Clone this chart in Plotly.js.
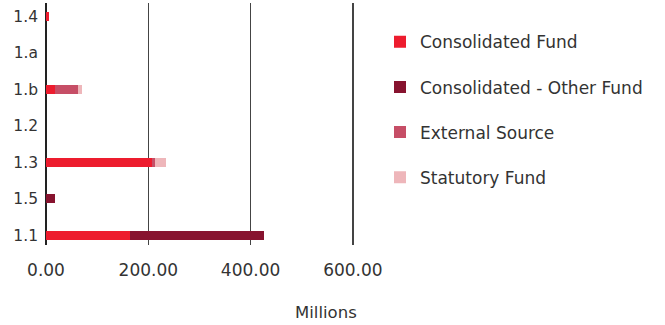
<!DOCTYPE html>
<html>
<head>
<meta charset="utf-8">
<script src="https://cdn.plot.ly/plotly-3.0.1.min.js"></script>
<style>html,body{margin:0;padding:0;background:#fff;}#chart{width:665px;height:325px;}</style>
</head>
<body>
<div id="chart"></div>
<script>
// Categories listed bottom to top
const categories = ['1.1', '1.5', '1.3', '1.2', '1.b', '1.a', '1.4'];
const consolidatedFund = [164, 0, 207, 0, 17, 0, 6];
const consolidatedOtherFund = [262, 17, 0, 0, 0, 0, 0];
const externalSource = [0, 0, 6, 0, 45, 0, 0];
const statutoryFund = [0, 0, 21, 0, 8, 0, 0];
const xTickValues = [0, 200, 400, 600];
const xTickLabels = ['0.00', '200.00', '400.00', '600.00'];

const seriesNames = ['Consolidated Fund', 'Consolidated - Other Fund', 'External Source', 'Statutory Fund'];
const seriesValues = [consolidatedFund, consolidatedOtherFund, externalSource, statutoryFund];
const seriesColors = ['#ED1C2E', '#87132F', '#C64E66', '#EEB6BA'];

const FONT = '"DejaVu Sans", sans-serif';

const traces = seriesNames.map((name, i) => ({
  type: 'bar',
  orientation: 'h',
  name: name,
  y: categories,
  x: seriesValues[i],
  marker: {color: seriesColors[i], line: {width: 0}},
  legendgroup: 'g' + i,
  hoverinfo: 'x+name'
}));

const layout = {
  width: 665,
  height: 325,
  margin: {l: 46, r: 285, t: 3, b: 80},
  barmode: 'stack',
  bargap: 0.745,
  paper_bgcolor: '#ffffff',
  plot_bgcolor: '#ffffff',
  font: {family: FONT, color: '#333333', size: 15},
  xaxis: {
    range: [0, 653],
    tickvals: xTickValues,
    ticktext: xTickLabels,
    showgrid: true,
    gridcolor: '#444444',
    gridwidth: 1.5,
    zeroline: true,
    zerolinecolor: '#222222',
    zerolinewidth: 1.5,
    showline: false,
    ticks: '',
    ticklabelstandoff: 13,
    tickfont: {family: FONT, size: 17, color: '#333333'},
    fixedrange: true
  },
  yaxis: {
    type: 'category',
    categoryorder: 'array',
    categoryarray: categories,
    range: [-0.27, 6.37],
    showgrid: false,
    zeroline: false,
    showline: false,
    ticks: '',
    ticklabelstandoff: 7,
    tickfont: {family: FONT, size: 15.5, color: '#333333'},
    fixedrange: true
  },
  legend: {
    x: 1.0,
    xanchor: 'left',
    y: 0.912,
    yanchor: 'top',
    traceorder: 'grouped',
    tracegroupgap: 20,
    font: {family: FONT, size: 17, color: '#333333'},
    bgcolor: 'rgba(0,0,0,0)'
  },
  annotations: [{
    text: 'Millions',
    xref: 'paper', yref: 'paper',
    x: 0.838, y: -0.277,
    xanchor: 'center', yanchor: 'middle',
    showarrow: false,
    font: {family: FONT, size: 16.5, color: '#333333'}
  }],
  showlegend: true
};

Plotly.newPlot('chart', traces, layout, {displayModeBar: false, staticPlot: true});
</script>
</body>
</html>
